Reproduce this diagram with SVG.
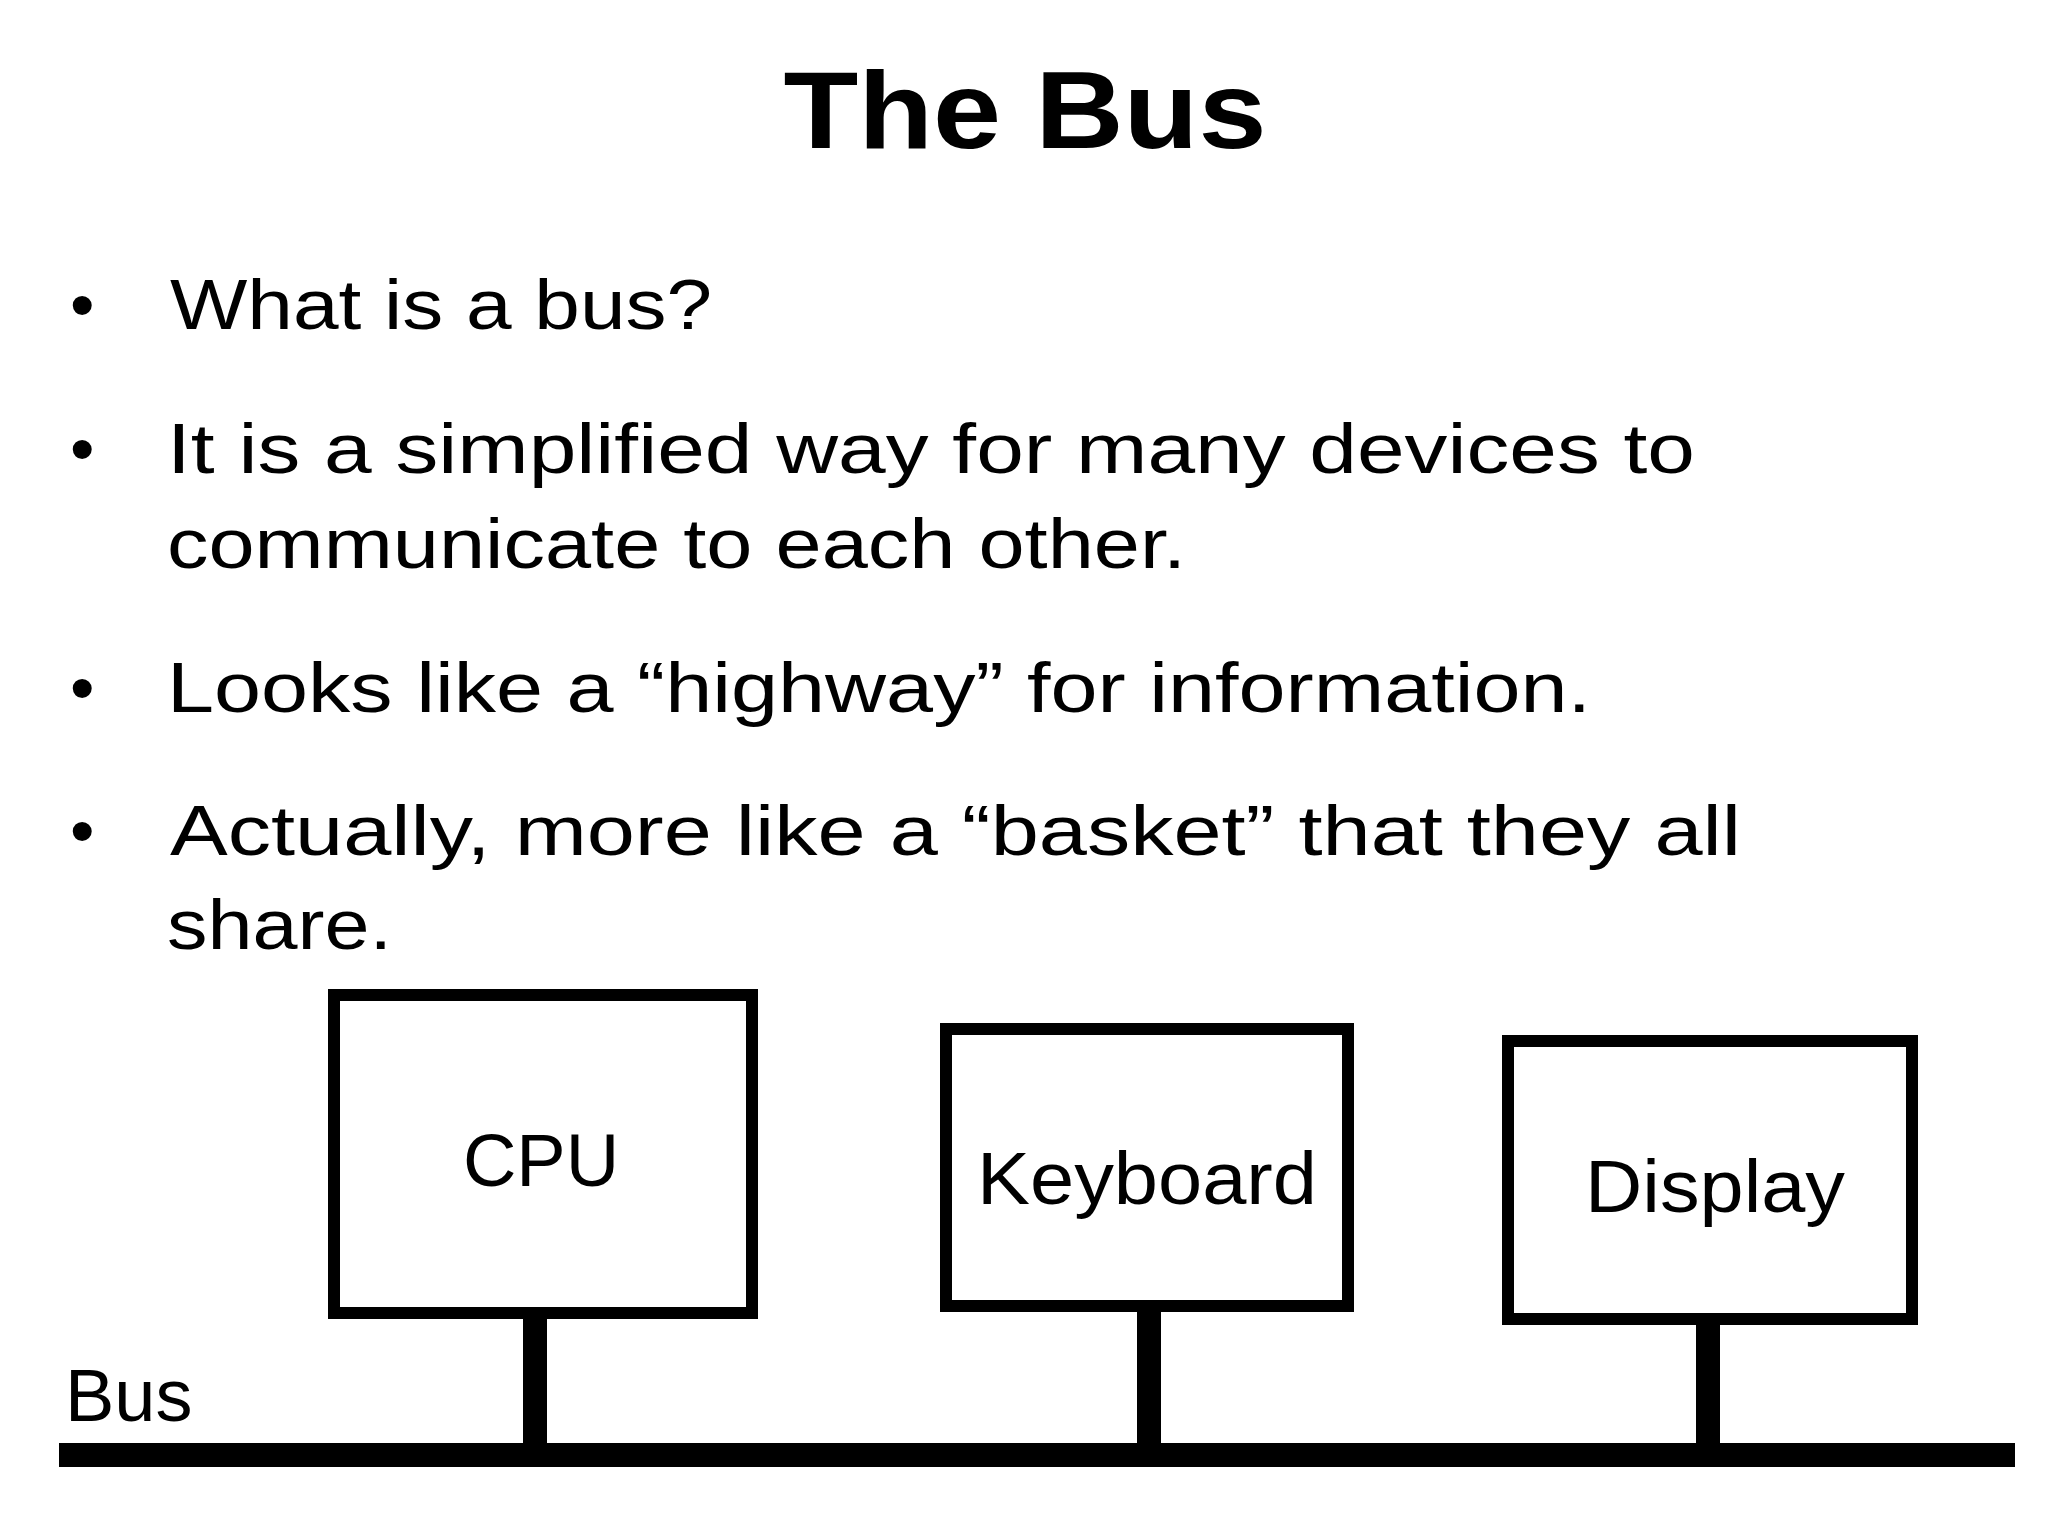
<svg xmlns="http://www.w3.org/2000/svg" width="2048" height="1536" viewBox="0 0 2048 1536">
<style>
text{font-family:"Liberation Sans",Arial,sans-serif;fill:#000}
.b{font-size:70px}
.n{font-size:74px;text-anchor:middle}
.box{fill:#fff;stroke:#000;stroke-width:12}
</style>
<rect width="2048" height="1536" fill="#fff"/>
<text x="1025" y="148" font-size="110" font-weight="bold" text-anchor="middle" textLength="483" lengthAdjust="spacingAndGlyphs">The Bus</text>
<g class="b">
<text x="70" y="329">•</text><text x="170" y="329" textLength="542" lengthAdjust="spacingAndGlyphs">What is a bus?</text>
<text x="70" y="473">•</text><text x="167" y="473" textLength="1528" lengthAdjust="spacingAndGlyphs">It is a simplified way for many devices to</text>
<text x="167" y="568" textLength="1019" lengthAdjust="spacingAndGlyphs">communicate to each other.</text>
<text x="70" y="712">•</text><text x="167" y="712" textLength="1424" lengthAdjust="spacingAndGlyphs">Looks like a “highway” for information.</text>
<text x="70" y="855">•</text><text x="170" y="855" textLength="1571" lengthAdjust="spacingAndGlyphs">Actually, more like a “basket” that they all</text>
<text x="167" y="949" textLength="225" lengthAdjust="spacingAndGlyphs">share.</text>
</g>
<g id="connectors" fill="#000">
<rect x="59" y="1443" width="1956" height="24"/>
<rect x="523" y="1313" width="24" height="140"/>
<rect x="1137" y="1306" width="24" height="147"/>
<rect x="1696" y="1319" width="24" height="134"/>
</g>
<g id="cpu"><rect class="box" x="334" y="995" width="418" height="318"/><text class="n" x="541" y="1186">CPU</text></g>
<g id="keyboard"><rect class="box" x="946" y="1029" width="402" height="277"/><text class="n" x="1147" y="1204" textLength="340" lengthAdjust="spacingAndGlyphs">Keyboard</text></g>
<g id="display"><rect class="box" x="1508" y="1041" width="404" height="278"/><text class="n" x="1715" y="1212" textLength="260" lengthAdjust="spacingAndGlyphs">Display</text></g>
<g id="buslabel"><text x="65" y="1421" font-size="74">Bus</text></g>
</svg>
